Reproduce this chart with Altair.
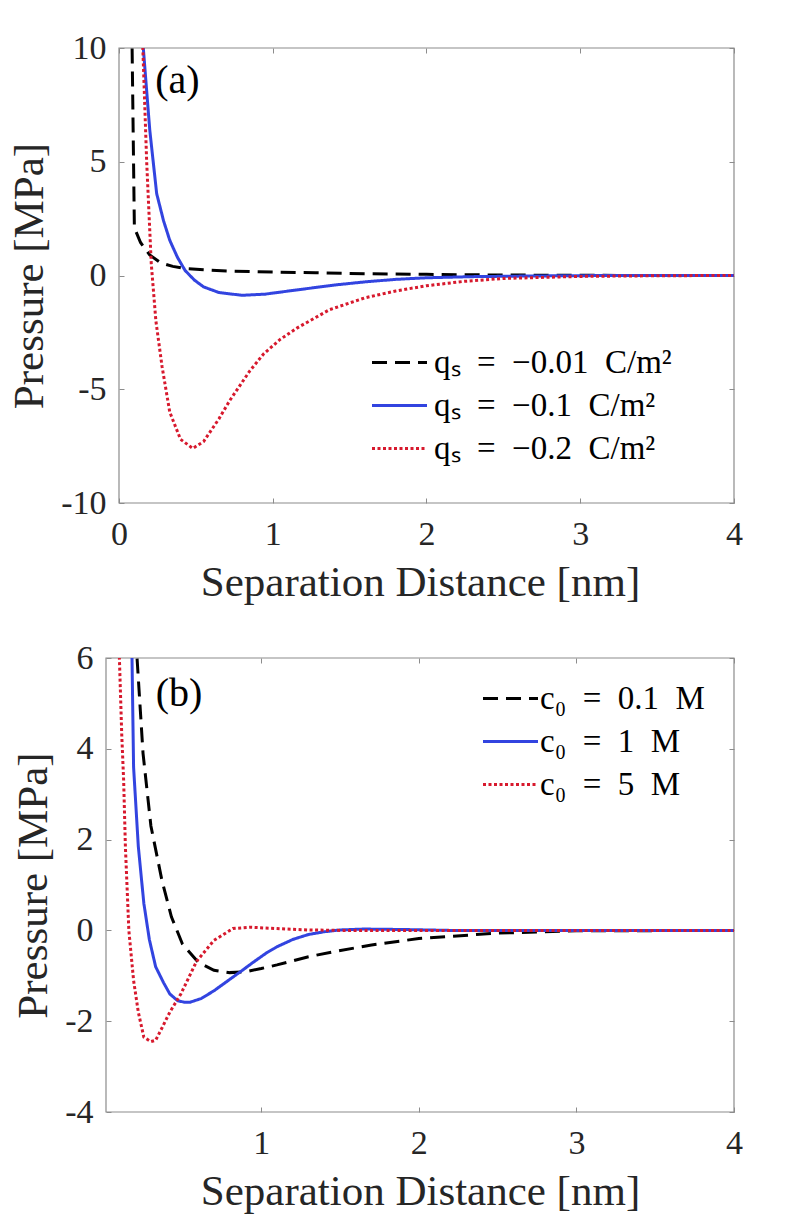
import altair as alt
import pandas as pd

FONT = "Liberation Serif"
TXT = "#262626"
FRAME = "#8c8c8c"

# ---------------- panel (a): surface charge ----------------
A_LABELS = ["q\u209b\u2002=\u2002\u22120.01\u2002C/m\u00b2",
            "q\u209b\u2002=\u2002\u22120.1\u2002C/m\u00b2",
            "q\u209b\u2002=\u2002\u22120.2\u2002C/m\u00b2"]
a1_x = [0.0815, 0.1, 0.14, 0.2, 0.27, 0.35, 0.44, 0.6, 0.75, 1.0, 1.28, 1.6, 2.0, 2.5, 3.0, 3.5, 4.0]
a1_p = [12, 2.1, 1.45, 0.9, 0.56, 0.4, 0.3, 0.23, 0.19, 0.15, 0.12, 0.08, 0.05, 0.02, 0.01, 0, 0]
a2_x = [0.15, 0.158, 0.2, 0.245, 0.29, 0.33, 0.38, 0.43, 0.49, 0.55, 0.65, 0.8, 0.95, 1.15, 1.4,
        1.6, 1.8, 2.0, 2.3, 2.7, 3.2, 4.0]
a2_p = [11, 10, 6.4, 3.6, 2.4, 1.55, 0.8, 0.22, -0.2, -0.5, -0.75, -0.87, -0.82, -0.64, -0.42,
        -0.28, -0.17, -0.1, -0.05, -0.02, 0, 0]
a3_x = [0.148, 0.155, 0.18, 0.21, 0.24, 0.28, 0.33, 0.4, 0.48, 0.55, 0.65, 0.72, 0.85, 0.94, 1.05,
        1.16, 1.37, 1.6, 1.8, 2.0, 2.24, 2.5, 3.0, 3.5, 4.0]
a3_p = [11.5, 10, 5, 0.5, -2, -4, -6, -7.2, -7.6, -7.3, -6.3, -5.5, -4.2, -3.45, -2.8,
        -2.3, -1.5, -0.98, -0.68, -0.45, -0.26, -0.13, -0.04, -0.01, 0]
A_XDOM = [0, 4]
A_YDOM = [-10, 10]
A_XTICKS = [0, 1, 2, 3, 4]
A_YTICKS = [-10, -5, 0, 5, 10]

# ---------------- panel (b): salt concentration ----------------
B_LABELS = ["c\u2080\u2002=\u20020.1\u2002M", "c\u2080\u2002=\u20021\u2002M",
            "c\u2080\u2002=\u20025\u2002M"]
b1_x = [0.2, 0.212, 0.25, 0.3, 0.37, 0.43, 0.5, 0.6, 0.7, 0.8, 0.9, 1.0, 1.1, 1.3, 1.46, 1.7, 2.0,
        2.5, 3.0, 4.0]
b1_p = [7, 6, 3.9, 2.3, 1.1, 0.3, -0.3, -0.7, -0.88, -0.93, -0.91, -0.84, -0.76, -0.58, -0.47,
        -0.32, -0.18, -0.06, -0.01, 0]
b2_x = [0.175, 0.18, 0.19, 0.22, 0.255, 0.29, 0.33, 0.38, 0.42, 0.47, 0.51, 0.55, 0.62, 0.7, 0.76,
        0.82, 0.88, 0.95, 1.04, 1.1, 1.2, 1.3, 1.4, 1.5, 1.65, 1.9, 2.2, 4.0]
b2_p = [7, 6, 3.6, 1.85, 0.6, -0.2, -0.8, -1.15, -1.4, -1.55, -1.58, -1.58, -1.5, -1.33, -1.18,
        -1.03, -0.88, -0.7, -0.48, -0.36, -0.2, -0.09, -0.03, 0.01, 0.03, 0.02, 0.0, 0]
b3_x = [0.095, 0.1, 0.115, 0.127, 0.138, 0.16, 0.19, 0.22, 0.255, 0.3, 0.33, 0.37, 0.42, 0.49,
        0.59, 0.7, 0.82, 0.93, 1.1, 1.3, 1.5, 4.0]
b3_p = [7, 6, 4.3, 3.3, 1.85, 0, -1.1, -1.8, -2.35, -2.45, -2.42, -2.15, -1.8, -1.4,
        -0.68, -0.22, 0.04, 0.07, 0.04, 0.01, 0, 0]
B_XDOM = [0.015, 4]
B_YDOM = [-4, 6]
B_XTICKS = [1, 2, 3, 4]
B_YTICKS = [-4, -2, 0, 2, 4, 6]

COLORS = ["#000000", "#3244e0", "#d7192d"]
DASHES = [[15, 8], [1, 0], [3, 2.5]]

TAGS = ["(a)", "(b)"]
TAG_X = [0.235, 0.33]
TAG_P = [8.55, 5.2]


def make_df(xs, ps, labels):
    rows = []
    for xx, pp, lab in zip(xs, ps, labels):
        for i, (a, b) in enumerate(zip(xx, pp)):
            rows.append({"x": a, "p": b, "s": lab, "i": i})
    return pd.DataFrame(rows)


def axis_main(orient, values, offset, **kw):
    return alt.Axis(orient=orient, values=values, labelExpr="datum.value + ''",
                    domain=False, grid=False, tickSize=5, offset=offset, tickColor=FRAME,
                    tickWidth=1, labelFlush=False, labelFont=FONT, labelFontSize=34,
                    labelColor=TXT, titleFont=FONT, titleFontSize=43,
                    titleFontWeight="normal", titleColor=TXT, **kw)


def axis_mirror(orient, values):
    return alt.Axis(orient=orient, values=values, labels=False, domain=False, grid=False,
                    tickSize=5, offset=-5, tickColor=FRAME, tickWidth=1)


def panel(df, labels, xdom, ydom, xt, yt, frame_w, shift, h, lx, ly, loff, tag, tx, tp):
    # the plot group is `shift` px wider on the left than the framed area
    x_lo = xdom[0] - shift * (xdom[1] - xdom[0]) / frame_w
    xs = alt.Scale(domain=[x_lo, xdom[1]], nice=False, zero=False)
    ys = alt.Scale(domain=ydom, nice=False, zero=False)
    leg = alt.Legend(orient="none", legendX=lx, legendY=ly, title=None, labelFont=FONT,
                     labelFontSize=33, labelColor="#000000", symbolType="M-2,0H2",
                     symbolSize=756, symbolStrokeWidth=3, labelOffset=loff, rowPadding=9,
                     padding=0, labelLimit=500)
    fdf = pd.DataFrame({"x0": [xdom[0]], "x1": [xdom[1]], "y0": [ydom[0]], "y1": [ydom[1]]})
    frame = alt.Chart(fdf).mark_rect(fillOpacity=0, stroke=FRAME, strokeWidth=1.2).encode(
        x=alt.X("x0:Q", scale=xs, axis=None), x2="x1:Q",
        y=alt.Y("y0:Q", scale=ys, axis=None), y2="y1:Q",
    )
    lines = alt.Chart(df).mark_line(clip=True, strokeWidth=3).encode(
        x=alt.X("x:Q", scale=xs, title="Separation Distance [nm]",
                axis=axis_main("bottom", xt, -5, labelPadding=14, titlePadding=10)),
        y=alt.Y("p:Q", scale=ys, title="Pressure [MPa]",
                axis=axis_main("left", yt, -5 - shift, labelPadding=13, titlePadding=9)),
        color=alt.Color("s:N", scale=alt.Scale(domain=labels, range=COLORS), legend=leg),
        strokeDash=alt.StrokeDash("s:N", scale=alt.Scale(domain=labels, range=DASHES),
                                  legend=leg),
        order="i:Q",
    )
    mirror = alt.Chart(df).mark_line(clip=True, opacity=0).encode(
        x=alt.X("x:Q", scale=xs, title=None, axis=axis_mirror("top", xt)),
        y=alt.Y("p:Q", scale=ys, title=None, axis=axis_mirror("right", yt)),
        detail="s:N",
    )
    tdf = pd.DataFrame({"x": [tx], "p": [tp], "t": [tag]})
    text = alt.Chart(tdf).mark_text(align="left", baseline="middle", font=FONT,
                                    fontSize=40, color="#000000").encode(
        x=alt.X("x:Q", scale=xs, axis=None),
        y=alt.Y("p:Q", scale=ys, axis=None),
        text="t:N",
    )
    return alt.layer(frame, lines, mirror, text).resolve_axis(
        x="independent", y="independent").properties(width=frame_w + shift, height=h)


df_a = make_df([a1_x, a2_x, a3_x], [a1_p, a2_p, a3_p], A_LABELS)
df_b = make_df([b1_x, b2_x, b3_x], [b1_p, b2_p, b3_p], B_LABELS)

pa = panel(df_a, A_LABELS, A_XDOM, A_YDOM, A_XTICKS, A_YTICKS, 615, 13, 455, 277, 298, 18,
           TAGS[0], TAG_X[0], TAG_P[0])
pb = panel(df_b, B_LABELS, B_XDOM, B_YDOM, B_XTICKS, B_YTICKS, 628, 0, 454, 388, 24, 13,
           TAGS[1], TAG_X[1], TAG_P[1])

chart = alt.concat(pa, pb, columns=1, spacing=35).resolve_scale(
    x="independent", y="independent", color="independent", strokeDash="independent"
).properties(
    padding={"left": 0, "top": 22, "right": 0, "bottom": 0},
    background="white",
).configure_view(stroke="transparent")

chart.save("out.html", embed_options={"renderer": "svg", "actions": False})
